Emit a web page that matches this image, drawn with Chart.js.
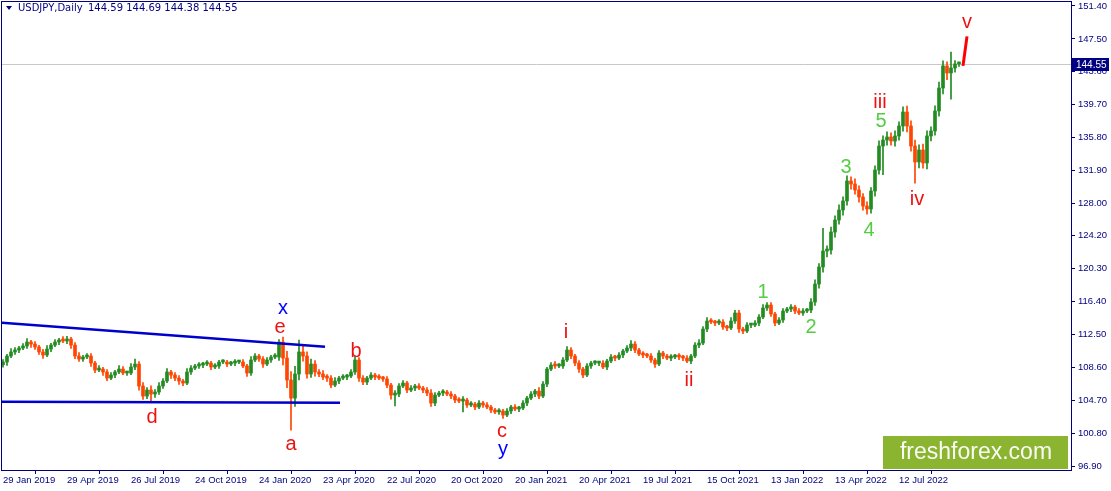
<!DOCTYPE html>
<html>
<head>
<meta charset="utf-8">
<script src="https://cdn.jsdelivr.net/npm/chart.js@4/dist/chart.umd.min.js"></script>
<style>
  html, body { margin: 0; padding: 0; background: #fff; }
  #wrap { width: 1111px; height: 491px; }
</style>
</head>
<body>
<div id="wrap"><canvas id="chart" width="1111" height="491"></canvas></div>
<script>
const STEP = 4;
const closes = [
  109.22, 109.93, 110.41, 110.64, 110.88, 111.12, 111.59, 111.35, 111.00, 110.41,
  110.05, 110.76, 111.23, 111.59, 111.83, 111.71, 111.95, 111.23, 109.93, 109.58,
  109.81, 109.93, 109.10, 108.27, 108.39, 108.04, 107.32, 107.68, 108.04, 108.39,
  107.92, 107.92, 108.63, 108.98, 106.38, 105.19, 105.90, 105.43, 105.67, 106.38,
  106.97, 108.04, 107.68, 107.32, 106.97, 106.73, 108.04, 108.51, 108.75, 108.86,
  108.98, 109.10, 108.63, 108.75, 109.22, 109.22, 108.98, 109.10, 109.22, 109.22,
  108.75, 107.92, 109.46, 109.93, 109.58, 108.98, 109.46, 109.81, 109.81, 111.59,
  109.69, 107.09, 104.95, 107.80, 110.41, 109.93, 107.80, 108.98, 108.04, 107.80,
  107.44, 107.32, 106.49, 106.97, 107.32, 107.44, 107.56, 108.04, 109.46, 107.32,
  106.85, 107.32, 107.68, 107.44, 107.32, 107.21, 106.49, 105.31, 105.43, 106.38,
  106.73, 105.90, 106.14, 106.38, 106.14, 105.90, 105.55, 104.36, 105.31, 105.55,
  105.67, 105.43, 105.19, 104.72, 104.60, 104.72, 104.13, 104.24, 103.89, 104.36,
  104.13, 103.89, 103.53, 103.30, 103.41, 102.94, 103.41, 103.89, 103.65, 103.77,
  104.36, 104.95, 105.43, 105.78, 105.19, 106.61, 108.39, 108.86, 108.75, 108.75,
  109.46, 110.64, 109.93, 109.10, 108.39, 107.68, 108.75, 109.10, 109.10, 109.10,
  108.63, 109.34, 109.81, 109.69, 110.05, 110.52, 110.88, 111.35, 110.64, 110.17,
  110.05, 109.93, 109.46, 108.98, 110.29, 109.93, 109.69, 109.81, 109.93, 109.81,
  109.69, 109.34, 109.93, 111.23, 111.47, 113.13, 114.08, 113.96, 113.84, 113.96,
  113.37, 113.25, 114.08, 115.03, 113.13, 112.89, 113.60, 113.60, 113.84, 114.55,
  115.62, 115.97, 114.91, 113.84, 114.20, 115.26, 115.50, 115.74, 115.26, 115.03,
  115.26, 115.38, 116.33, 118.46, 120.48, 122.37, 122.49, 124.62, 126.04, 127.23,
  128.30, 130.67, 130.31, 129.60, 128.77, 127.70, 127.35, 129.48, 131.97, 134.81,
  135.52, 135.88, 135.40, 136.00, 137.18, 138.84, 137.18, 134.81, 132.92, 134.34,
  132.80, 136.00, 136.59, 138.96, 141.68, 144.29, 143.46, 144.05, 144.53, 144.55
];
const firstOpen = 108.90;

// how far the wicks reach beyond each body (yen)
const wickUp = [
  0.3, 0.2, 0.4, 0.3, 0.2, 0.3, 0.4, 0.2, 0.3, 0.2,
  0.3, 0.4, 0.2, 0.3, 0.2, 0.4, 0.3, 0.2, 0.3, 0.4,
  0.2, 0.3, 0.3, 0.2, 0.4, 0.2, 0.3, 0.3, 0.2, 0.4,
  0.3, 0.2, 0.4, 0.6, 0.3, 0.4, 0.3, 0.5, 0.3, 0.4,
  0.3, 0.4, 0.2, 0.3, 0.3, 0.2, 0.4, 0.3, 0.2, 0.3,
  0.2, 0.3, 0.2, 0.3, 0.2, 0.3, 0.2, 0.2, 0.3, 0.2,
  0.3, 0.2, 0.4, 0.3, 0.2, 0.3, 0.3, 0.2, 0.4, 0.3,
  0.6, 0.8, 1.0, 0.9, 1.4, 0.8, 0.5, 0.6, 0.4, 0.3,
  0.4, 0.3, 0.3, 0.4, 0.2, 0.3, 0.2, 0.3, 0.5, 0.3,
  0.3, 0.2, 0.3, 0.2, 0.3, 0.2, 0.3, 0.2, 0.4, 0.3,
  0.3, 0.2, 0.3, 0.2, 0.3, 0.2, 0.3, 0.4, 0.3, 0.2,
  0.3, 0.2, 0.3, 0.2, 0.3, 0.4, 0.2, 0.3, 0.2, 0.3,
  0.2, 0.3, 0.2, 0.2, 0.3, 0.2, 0.3, 0.2, 0.3, 0.2,
  0.3, 0.2, 0.3, 0.2, 0.4, 0.3, 0.2, 0.3, 0.4, 0.3,
  0.3, 0.4, 0.3, 0.2, 0.3, 0.2, 0.3, 0.2, 0.3, 0.2,
  0.3, 0.2, 0.3, 0.2, 0.3, 0.2, 0.3, 0.4, 0.3, 0.2,
  0.3, 0.2, 0.3, 0.2, 0.3, 0.2, 0.2, 0.3, 0.2, 0.3,
  0.2, 0.3, 0.2, 0.3, 0.4, 0.3, 0.4, 0.3, 0.2, 0.3,
  0.3, 0.2, 0.4, 0.3, 0.3, 0.2, 0.3, 0.2, 0.3, 0.3,
  0.4, 0.3, 0.3, 0.2, 0.3, 0.3, 0.2, 0.3, 0.2, 0.3,
  0.3, 0.2, 0.4, 0.5, 0.4, 2.7, 0.5, 0.6, 0.5, 0.6,
  0.5, 0.6, 0.5, 0.6, 0.5, 0.4, 0.5, 0.4, 0.5, 0.6,
  0.5, 0.6, 0.5, 0.6, 0.5, 0.6, 0.7, 0.6, 0.7, 0.6,
  0.7, 0.6, 0.5, 0.6, 0.7, 0.6, 0.5, 1.9, 0.4, 0.2
];
const wickDown = [
  0.3, 0.4, 0.2, 0.3, 0.3, 0.2, 0.3, 0.4, 0.3, 0.3,
  0.4, 0.2, 0.3, 0.2, 0.3, 0.2, 0.3, 0.4, 0.3, 0.3,
  0.3, 0.2, 0.4, 0.3, 0.2, 0.4, 0.3, 0.2, 0.3, 0.2,
  0.2, 0.3, 0.2, 0.3, 0.5, 0.4, 0.3, 1.0, 0.4, 0.3,
  0.3, 0.2, 0.4, 0.3, 0.4, 0.3, 0.2, 0.3, 0.2, 0.3,
  0.3, 0.2, 0.3, 0.2, 0.3, 0.2, 0.3, 0.2, 0.3, 0.2,
  0.2, 0.4, 0.3, 0.2, 0.3, 0.4, 0.2, 0.3, 0.2, 0.4,
  0.8, 0.9, 3.8, 1.0, 0.7, 0.6, 0.5, 0.4, 0.5, 0.3,
  0.3, 0.4, 0.3, 0.2, 0.3, 0.2, 0.3, 0.2, 0.3, 0.4,
  0.3, 0.3, 0.2, 0.3, 0.2, 0.3, 0.3, 0.5, 1.3, 0.3,
  0.2, 0.3, 0.2, 0.3, 0.2, 0.3, 0.3, 0.4, 0.3, 0.2,
  0.3, 0.2, 0.3, 0.3, 0.2, 1.3, 0.3, 0.2, 0.3, 0.2,
  0.3, 0.2, 0.3, 0.2, 0.3, 0.4, 0.2, 0.3, 0.2, 0.3,
  0.2, 0.3, 0.2, 0.3, 0.3, 0.2, 0.3, 0.2, 0.3, 0.2,
  0.3, 0.2, 0.3, 0.3, 0.4, 0.3, 0.2, 0.3, 0.2, 0.3,
  0.2, 0.3, 0.2, 0.3, 0.2, 0.3, 0.2, 0.3, 0.3, 0.2,
  0.3, 0.2, 0.3, 0.4, 0.2, 0.3, 0.2, 0.3, 0.2, 0.3,
  0.3, 0.2, 0.3, 0.2, 0.3, 0.2, 0.3, 0.2, 0.3, 0.2,
  0.3, 0.3, 0.2, 0.3, 0.4, 0.3, 0.2, 0.3, 0.2, 0.3,
  0.2, 0.3, 0.3, 0.3, 0.2, 0.3, 0.2, 0.3, 0.3, 0.2,
  0.3, 0.2, 0.3, 0.4, 0.5, 0.6, 0.7, 0.5, 0.6, 0.5,
  0.6, 0.5, 0.6, 0.5, 0.6, 0.5, 0.6, 0.5, 0.6, 0.5,
  3.4, 0.6, 0.5, 0.6, 0.5, 0.6, 0.7, 0.6, 2.5, 0.7,
  0.6, 0.7, 0.6, 0.5, 0.6, 0.7, 0.8, 3.1, 0.5, 0.3
];

const dateLabels = ['29 Jan 2019', '29 Apr 2019', '26 Jul 2019', '24 Oct 2019', '24 Jan 2020',
  '23 Apr 2020', '22 Jul 2020', '20 Oct 2020', '20 Jan 2021', '20 Apr 2021', '19 Jul 2021',
  '15 Oct 2021', '13 Jan 2022', '13 Apr 2022', '12 Jul 2022'];
const barsPerLabel = 64;
const priceTicks = [151.40, 147.50, 143.60, 139.70, 135.80, 131.90, 128.00, 124.20,
  120.30, 116.40, 112.50, 108.60, 104.70, 100.80, 96.90];
const lastPrice = 144.55;
const headerSymbol = 'USDJPY,Daily';
const headerOhlc = '144.59 144.69 144.38 144.55';

// trend lines and the wave v projection
const upperLineBars = [-1, 322];
const upperLinePrices = [113.88, 111.03];
const lowerLineBars = [-1, 337];
const lowerLinePrices = [104.52, 104.40];
const projBars = [960, 964];
const projPrices = [144.30, 147.80];

// wave marks
const waveText   = ['x', 'e', 'a', 'b', 'c', 'y', 'd', 'i', 'ii', 'iii', 'iv', 'v', '1', '2', '3', '4', '5'];
const waveBars   = [280, 277, 288, 353, 499, 500, 149, 563, 686, 877, 914, 964, 760, 808, 843, 866, 878];
const wavePrices = [115.62, 113.37, 99.50, 110.52, 101.04, 98.91, 102.70, 112.77, 107.09, 139.91, 128.53, 149.50, 117.51, 113.37, 132.32, 124.86, 137.66];
const waveKind   = ['blue', 'red', 'red', 'red', 'red', 'blue', 'red', 'red', 'red', 'red', 'red', 'red', 'green', 'green', 'green', 'green', 'green'];

const NAVY = '#000080';
const UP = '#228b22';
const DOWN = '#ff4500';
const kindColor = { blue: '#0000ff', red: '#ee1111', green: '#55cc44' };

const opens = closes.map((c, i) => (i === 0 ? firstOpen : closes[i - 1]));
const bodies = closes.map((c, i) => ({ x: i * STEP, y: [opens[i], c] }));
const wicks = closes.map((c, i) => ({
  x: i * STEP,
  y: [Math.min(opens[i], c) - wickDown[i], Math.max(opens[i], c) + wickUp[i]]
}));
const candleColors = closes.map((c, i) => (c >= opens[i] ? UP : DOWN));

const chartDecor = {
  id: 'chartDecor',
  beforeDatasetsDraw(chart) {
    const { ctx, chartArea: a, scales } = chart;
    const y = Math.round(scales.y.getPixelForValue(lastPrice)) + 0.5;
    ctx.save();
    ctx.strokeStyle = '#c8c8c8';
    ctx.lineWidth = 1;
    ctx.beginPath();
    ctx.moveTo(a.left, y);
    ctx.lineTo(a.right, y);
    ctx.stroke();
    ctx.restore();
  },
  afterDatasetsDraw(chart) {
    const { ctx, scales } = chart;
    ctx.save();
    ctx.textAlign = 'center';
    ctx.textBaseline = 'middle';
    ctx.font = '20px "Liberation Sans", Arial, sans-serif';
    waveText.forEach((t, i) => {
      ctx.fillStyle = kindColor[waveKind[i]];
      ctx.fillText(t, scales.x.getPixelForValue(waveBars[i]), scales.y.getPixelForValue(wavePrices[i]));
    });
    ctx.restore();
  },
  afterDraw(chart) {
    const { ctx, chartArea: a, scales } = chart;
    ctx.save();
    // frame
    ctx.strokeStyle = NAVY;
    ctx.lineWidth = 1;
    ctx.strokeRect(a.left - 0.5, a.top - 0.5, a.right - a.left + 1, a.bottom - a.top + 1);

    // header
    ctx.fillStyle = NAVY;
    ctx.textBaseline = 'middle';
    ctx.font = '10px "DejaVu Sans", sans-serif';
    ctx.beginPath();
    ctx.moveTo(6, 6);
    ctx.lineTo(12, 6);
    ctx.lineTo(9, 10);
    ctx.closePath();
    ctx.fill();
    ctx.fillText(headerSymbol, 18, 8);
    ctx.fillText(headerOhlc, 88, 8);

    // current price box
    const py = Math.round(scales.y.getPixelForValue(lastPrice));
    ctx.fillStyle = NAVY;
    ctx.fillRect(a.right + 1, py - 6, 37, 13);
    ctx.fillStyle = '#ffffff';
    ctx.font = '10px "Liberation Sans", Arial, sans-serif';
    ctx.textAlign = 'left';
    ctx.fillText(lastPrice.toFixed(2), a.right + 5, py + 1);

    // watermark
    ctx.fillStyle = '#8bb431';
    ctx.fillRect(883, 436, 185, 33);
    ctx.fillStyle = 'rgba(255,255,255,0.95)';
    ctx.font = '23px "Liberation Sans", Arial, sans-serif';
    ctx.textAlign = 'center';
    ctx.fillText('freshforex.com', 976, 453);
    ctx.restore();
  }
};

const axisFont = { family: '"Liberation Sans", Arial, sans-serif', size: 9.5 };

new Chart(document.getElementById('chart'), {
  data: {
    datasets: [
      {
        type: 'bar',
        data: bodies,
        backgroundColor: candleColors,
        borderWidth: 0,
        barThickness: 3,
        minBarLength: 2,
        grouped: false,
        order: 2
      },
      {
        type: 'bar',
        data: wicks,
        backgroundColor: candleColors,
        borderWidth: 0,
        barThickness: 1,
        grouped: false,
        order: 3
      },
      {
        type: 'line',
        data: upperLineBars.map((b, i) => ({ x: b, y: upperLinePrices[i] })),
        borderColor: '#0000cd',
        borderWidth: 2.5,
        pointRadius: 0,
        order: 1
      },
      {
        type: 'line',
        data: lowerLineBars.map((b, i) => ({ x: b, y: lowerLinePrices[i] })),
        borderColor: '#0000cd',
        borderWidth: 2.5,
        pointRadius: 0,
        order: 1
      },
      {
        type: 'line',
        data: projBars.map((b, i) => ({ x: b, y: projPrices[i] })),
        borderColor: '#ff0000',
        borderWidth: 3,
        pointRadius: 0,
        order: 1
      }
    ]
  },
  options: {
    responsive: false,
    animation: false,
    devicePixelRatio: 1,
    layout: { padding: { left: 2, top: 2, right: 0, bottom: 0 } },
    plugins: { legend: { display: false }, tooltip: { enabled: false } },
    scales: {
      x: {
        type: 'linear',
        position: 'bottom',
        min: -1,
        max: 1068,
        offset: false,
        afterBuildTicks: (scale) => {
          scale.ticks = dateLabels.map((_, k) => ({ value: k * barsPerLabel }));
        },
        afterFit: (scale) => {
          scale.height = 21;
          scale.paddingLeft = 0;
          scale.paddingRight = 0;
        },
        ticks: {
          callback: (v, i) => dateLabels[i],
          align: 'start',
          maxRotation: 0,
          autoSkip: false,
          color: NAVY,
          font: axisFont,
          padding: 1
        },
        grid: { drawOnChartArea: false, tickLength: 4, color: NAVY },
        border: { color: NAVY }
      },
      y: {
        type: 'linear',
        position: 'right',
        min: 96.43,
        max: 151.87,
        afterBuildTicks: (scale) => {
          scale.ticks = priceTicks.map((v) => ({ value: v }));
        },
        afterFit: (scale) => {
          scale.width = 40;
          scale.paddingTop = 0;
          scale.paddingBottom = 0;
        },
        ticks: {
          callback: (v) => Number(v).toFixed(2),
          color: NAVY,
          font: axisFont,
          padding: 3
        },
        grid: { drawOnChartArea: false, tickLength: 4, color: NAVY },
        border: { color: NAVY }
      }
    }
  },
  plugins: [chartDecor]
});
</script>
</body>
</html>
